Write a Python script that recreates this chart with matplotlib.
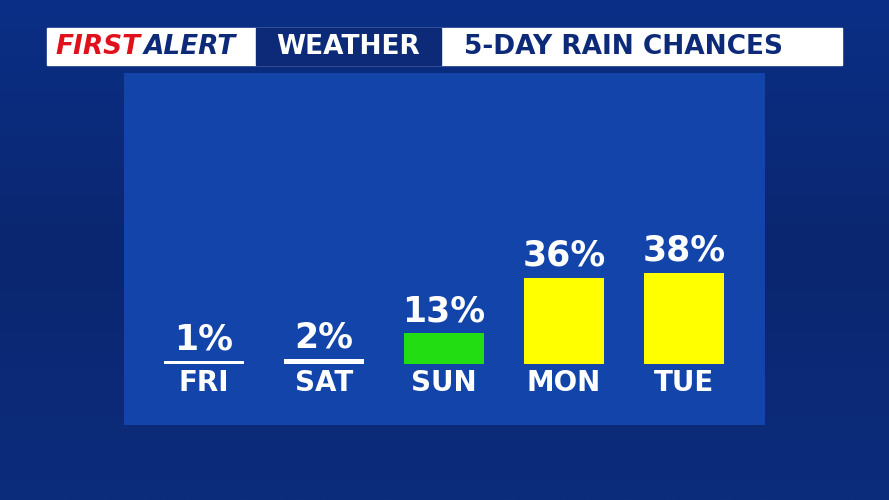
import numpy as np
import matplotlib.pyplot as plt
from matplotlib.patches import Rectangle

days = ["FRI", "SAT", "SUN", "MON", "TUE"]
chances = [1, 2, 13, 36, 38]
labels = ["1%", "2%", "13%", "36%", "38%"]

W, H = 889, 500
fig = plt.figure(figsize=(W / 100, H / 100), dpi=100)

# background with a soft vertical gradient
bg = fig.add_axes([0, 0, 1, 1])
grad = np.linspace(0, 1, 256).reshape(-1, 1)
from matplotlib.colors import LinearSegmentedColormap
cmap = LinearSegmentedColormap.from_list("bg", ["#0b2f86", "#0a2670", "#0c2c7c"])
bg.imshow(grad, aspect="auto", cmap=cmap, extent=[0, W, H, 0])
bg.set_xlim(0, W)
bg.set_ylim(H, 0)
bg.axis("off")

# header bar
bg.add_patch(Rectangle((47, 28), 795, 37, color="white"))
bg.add_patch(Rectangle((256, 28), 185, 37, color="#0d2a78"))
bg.text(55, 47, "FIRST", color="#e0101c", fontsize=19, fontweight="bold",
        style="italic", va="center", ha="left")
bg.text(144, 47, "ALERT", color="#0d2a78", fontsize=19, fontweight="bold",
        style="italic", va="center", ha="left")
bg.text(348, 47, "WEATHER", color="white", fontsize=19, fontweight="bold",
        va="center", ha="center")
bg.text(624, 47, "5-DAY RAIN CHANCES", color="#0d2a78", fontsize=19,
        fontweight="bold", va="center", ha="center")

# inner panel and bar axes
x0, x1, y0, y1 = 124, 765, 73, 425
ax = fig.add_axes([x0 / W, 1 - y1 / H, (x1 - x0) / W, (y1 - y0) / H])
ax.set_facecolor("#1244aa")
ppu = 2.4
base = 364
ax.set_ylim(-(y1 - base) / ppu, (base - y0) / ppu)
ax.set_xlim(-80 / 120, (x1 - x0) / 120 - 80 / 120)
for s in ax.spines.values():
    s.set_visible(False)
ax.set_xticks([])
ax.set_yticks([])

x = np.arange(len(days))
colors = []
for c in chances:
    if c < 5:
        colors.append("white")
    elif c < 20:
        colors.append("#22dd11")
    else:
        colors.append("#ffff00")
heights = [max(c, 1.2) for c in chances]
ax.bar(x, heights, width=80 / 120, color=colors, align="center")
for xi, h, lab, d in zip(x, heights, labels, days):
    ax.text(xi, h + 2, lab, color="white", fontsize=25, fontweight="bold",
            ha="center", va="bottom")
    ax.text(xi, -2, d, color="white", fontsize=20, fontweight="bold",
            ha="center", va="top")

fig.savefig("out.png", dpi=100)
